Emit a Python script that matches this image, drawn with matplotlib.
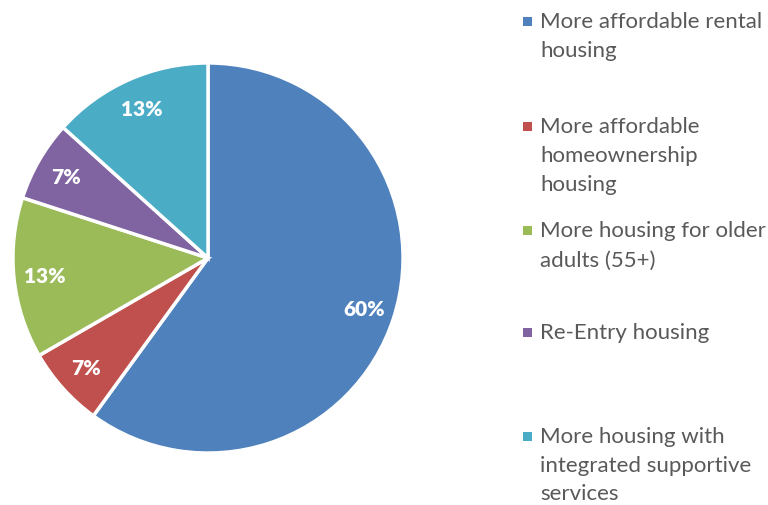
import matplotlib.pyplot as plt
from matplotlib.patches import Rectangle

categories = ["More affordable rental housing",
              "More affordable homeownership housing",
              "More housing for older adults (55+)",
              "Re-Entry housing",
              "More housing with integrated supportive services"]
legend_lines = [["More affordable rental", "housing"],
                ["More affordable", "homeownership", "housing"],
                ["More housing for older", "adults (55+)"],
                ["Re-Entry housing"],
                ["More housing with", "integrated supportive", "services"]]
values = [60, 6.67, 13.33, 6.67, 13.33]
colors = ["#4F81BD", "#C0504D", "#9BBB59", "#8064A2", "#4BACC6"]

W, H = 768, 506
fig = plt.figure(figsize=(W/100, H/100), dpi=100)
cx, cy, r = 208, 259, 197
ax = fig.add_axes([(cx-r)/W, (H-cy-r)/H, 2*r/W, 2*r/H])
wedges, texts, autotexts = ax.pie(values, colors=colors, startangle=90, counterclock=False,
       autopct='%.0f%%', pctdistance=0.84,
       wedgeprops=dict(edgecolor='white', linewidth=2.5),
       textprops=dict(color='white', fontsize=15, fontweight='heavy', family='Lato'))
ax.set_xlim(-1.01, 1.01)
ax.set_ylim(-1.01, 1.01)
ax.axis('off')

line_ys = [[22, 51], [127, 156, 185], [231, 261], [333], [437, 466, 494]]
for lines, ys, col in zip(legend_lines, line_ys, colors):
    s = 9
    fig.patches.append(Rectangle(((527 - s/2)/W, (H - ys[0] - s/2)/H), s/W, s/H,
                                 transform=fig.transFigure, facecolor=col, edgecolor='none'))
    for t, y in zip(lines, ys):
        fig.text(540/W, (H - y)/H, t, ha='left', va='center', fontsize=16,
                 color='#595959', family='Lato')

fig.savefig('out.png', dpi=100)
